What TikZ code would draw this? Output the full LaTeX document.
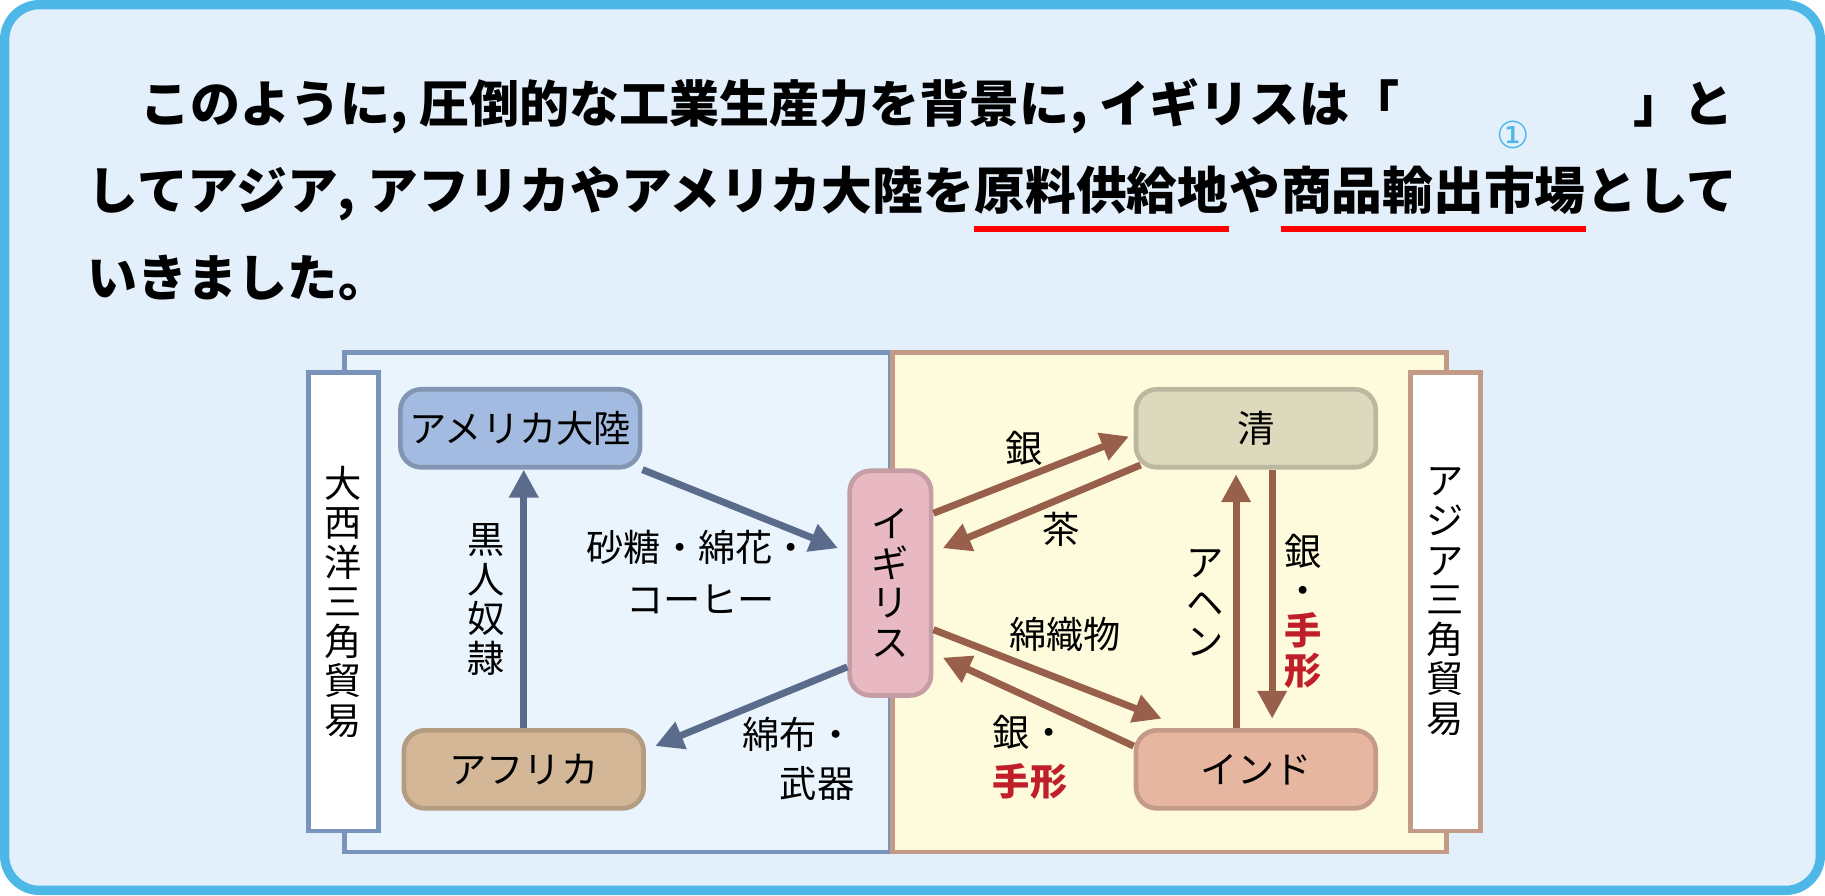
\documentclass[tikz,border=0pt]{standalone}
\usepackage{fontspec}
\setmainfont{Noto Sans CJK JP}
\newfontfamily\symfont{DejaVu Sans}
\usetikzlibrary{arrows.meta,calc,positioning}
\definecolor{frameblue}{HTML}{4DB8E8}
\definecolor{pageblue}{HTML}{E3EFFA}
\definecolor{leftfill}{HTML}{EAF4FC}
\definecolor{leftline}{HTML}{7A93BB}
\definecolor{rightfill}{HTML}{FEFADC}
\definecolor{rightline}{HTML}{C29A85}
\definecolor{arrowblue}{HTML}{5A6B8C}
\definecolor{arrowbrown}{HTML}{98604A}
\definecolor{noteRed}{HTML}{C01F2A}
\definecolor{amerfill}{HTML}{A3BBE0}
\definecolor{afrfill}{HTML}{D3B797}
\definecolor{igifill}{HTML}{E8B9C2}
\definecolor{qingfill}{HTML}{DDD9BC}
\definecolor{indfill}{HTML}{E7B6A0}
\tikzset{
  tradebox/.style={rounded corners=9pt,line width=2pt,minimum height=33.5pt,
    minimum width=103pt,inner sep=0pt,font=\fontsize{16}{16}\selectfont},
  bluearrow/.style={arrowblue,line width=3pt,-{Triangle[length=12pt,width=12pt]}},
  brownarrow/.style={arrowbrown,line width=3pt,-{Triangle[length=12pt,width=12pt]}},
  vlabel/.style={align=center,inner sep=0pt,font=\fontsize{16}{17}\selectfont},
  hlabel/.style={align=left,inner sep=0pt,font=\fontsize{16}{21}\selectfont},
  para/.style={inner sep=0pt,font=\bfseries\fontsize{21.5}{21.5}\selectfont},
  parawide/.style={inner sep=0pt,font=\bfseries\fontsize{21.8}{21.8}\selectfont},
  redline/.style={red,line width=2.5pt}
}
\begin{document}
\begin{tikzpicture}[x=0.5pt,y=-0.5pt]
  \useasboundingbox (0,0) rectangle (1568,769);
  % frame
  \draw[frameblue,fill=pageblue,line width=4pt,rounded corners=15pt] (4,4) rectangle (1564,765);
  % text
  \node[para,anchor=base west] (l1a) at (120,105) {このように, 圧倒的な工業生産力を背景に, イギリスは「};
  \node[para,anchor=base east] (l1b) at (1490,105) {」と};
  \node[parawide,anchor=base west] (l2a) at (75,180) {してアジア, アフリカやアメリカ大陸を};
  \node[parawide,anchor=base west] (l2b) at (l2a.base east) {原料供給地};
  \node[parawide,anchor=base west] (l2c) at (l2b.base east) {や};
  \node[parawide,anchor=base west] (l2d) at (l2c.base east) {商品輸出市場};
  \node[parawide,anchor=base west] (l2e) at (l2d.base east) {として};
  \node[para,anchor=base west] (l3) at (75,255) {いきました。};
  \draw[redline] ([yshift=-6pt]l2b.south west) -- ([yshift=-6pt]l2b.south east);
  \draw[redline] ([yshift=-6pt]l2d.south west) -- ([yshift=-6pt]l2d.south east);
  \node[text=frameblue,font=\symfont\fontsize{16}{16}\selectfont,inner sep=0pt] (num)
    at ([yshift=13pt]$(l2d.north west)!0.76!(l2d.north east)$) {①};
  % panels
  \draw[leftline,fill=leftfill,line width=2pt] (296,303) rectangle (765,732);
  \draw[rightline,fill=rightfill,line width=2pt] (767,303) rectangle (1243,732);
  \node[draw=leftline,fill=white,line width=2pt,minimum width=30pt,minimum height=197pt,
    vlabel] (atl) at (295,517) {大\\西\\洋\\三\\角\\貿\\易};
  \node[draw=rightline,fill=white,line width=2pt,minimum width=30pt,minimum height=197pt,
    vlabel] (asia) at (1242,517) {ア\\ジ\\ア\\三\\角\\貿\\易};
  % nodes
  \node[tradebox,fill=amerfill,draw=amerfill!80!black] (amer) at (447,368) {アメリカ大陸};
  \node[tradebox,fill=afrfill,draw=afrfill!85!black] (afr) at (450,661) {アフリカ};
  \node[tradebox,fill=igifill,draw=igifill!85!black,minimum width=35pt,minimum height=96.5pt,
    align=center,font=\fontsize{16}{17}\selectfont] (igi) at (765,501) {イ\\ギ\\リ\\ス};
  \node[tradebox,fill=qingfill,draw=qingfill!85!black] (qing) at (1079,368) {清};
  \node[tradebox,fill=indfill,draw=indfill!85!black] (ind) at (1079,661) {インド};
  % atlantic arrows
  \draw[bluearrow] (amer.south east) -- ([xshift=-4pt,yshift=15pt]igi.west);
  \draw[bluearrow] ([yshift=-36pt]igi.west) -- ([xshift=4pt,yshift=10pt]afr.east);
  \draw[bluearrow] (afr.north) -- (afr.north |- amer.south);
  % asian arrows
  \draw[brownarrow] ([yshift=30pt]igi.east) -- ([xshift=-2pt,yshift=-3.5pt]qing.west);
  \draw[brownarrow] ([xshift=3pt,yshift=2pt]qing.south west) -- ([xshift=4pt,yshift=15pt]igi.east);
  \draw[brownarrow] ([yshift=-20pt]igi.east) -- ([xshift=12pt,yshift=4pt]ind.north west);
  \draw[brownarrow] ([yshift=10pt]ind.west) -- ([xshift=4pt,yshift=-32pt]igi.east);
  \draw[brownarrow] ([xshift=-8.5pt]ind.north) -- ([xshift=-8.5pt,yshift=-2pt]qing.south);
  \draw[brownarrow] ([xshift=7pt]qing.south) -- ([xshift=7pt,yshift=4pt]ind.north);
  % labels
  \node[hlabel] (sugar) at (600,470) {砂糖・綿花・};
  \node[hlabel] (coffee) at (602,515) {コーヒー};
  \node[vlabel] (slave) at (418,515) {黒\\人\\奴\\隷};
  \node[hlabel,align=right] (cloth) at (670,652) {\hspace*{1em}綿布・\\武器};
  \node[hlabel] (silv1) at (880,385) {銀};
  \node[hlabel] (tea) at (912,455) {茶};
  \node[hlabel] (textile) at (915,545) {綿織物};
  \node[hlabel] (silv2) at (885,651) {銀・\\\textcolor{noteRed}{\bfseries 手形}};
  \node[vlabel] (opium) at (1035,518) {ア\\ヘ\\ン};
  \node[vlabel] (silv3) at (1120,525) {銀\\・\\\textcolor{noteRed}{\bfseries 手}\\\textcolor{noteRed}{\bfseries 形}};
\end{tikzpicture}
\end{document}
